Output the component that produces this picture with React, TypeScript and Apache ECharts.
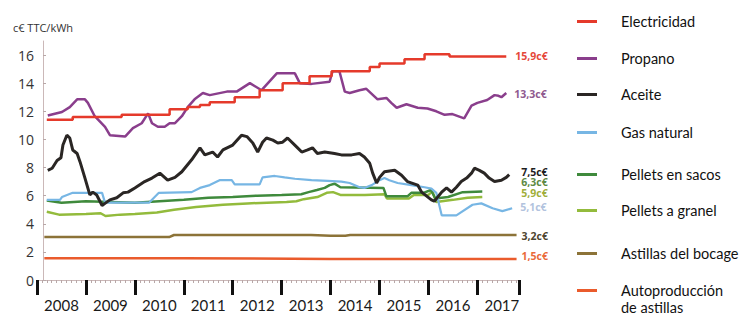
import React, { useEffect, useRef } from "react";
import * as echarts from "echarts";

// ---- Data (year as decimal, value in c€ TTC/kWh) ----
const seriesNames = [
  "Electricidad",
  "Propano",
  "Aceite",
  "Gas natural",
  "Pellets en sacos",
  "Pellets a granel",
  "Astillas del bocage",
  "Autoproducción de astillas",
];

const electricidad: [number, number][] = [
  [2008.2, 11.4], [2008.73, 11.6], [2009.73, 11.75], [2010.71, 12.15], [2011.08, 12.3],
  [2011.33, 12.45], [2011.53, 12.65], [2012.04, 13.0], [2012.55, 13.5], [2013.02, 14.0],
  [2013.57, 14.5], [2014.02, 14.85], [2014.8, 15.15], [2015.0, 15.4], [2015.51, 15.7],
  [2015.92, 16.05], [2016.43, 15.9], [2017.59, 15.9],
];

const propano: [number, number][] = [
  [2008.22, 11.7], [2008.51, 11.95], [2008.67, 12.3], [2008.82, 12.85], [2008.98, 12.85],
  [2009.04, 12.6], [2009.18, 11.65], [2009.39, 10.9], [2009.49, 10.3], [2009.8, 10.2],
  [2009.96, 10.8], [2010.14, 11.15], [2010.27, 11.85], [2010.35, 11.15], [2010.47, 10.9],
  [2010.61, 10.9], [2010.71, 11.15], [2010.82, 11.15], [2010.96, 11.65], [2011.08, 12.3],
  [2011.22, 12.85], [2011.39, 13.3], [2011.53, 13.15], [2011.88, 13.4], [2012.08, 13.4],
  [2012.35, 14.0], [2012.59, 13.5], [2012.9, 14.7], [2013.27, 14.7], [2013.37, 14.0],
  [2013.61, 13.95], [2013.98, 14.1], [2014.04, 14.85], [2014.18, 14.85], [2014.29, 13.4],
  [2014.39, 13.3], [2014.59, 13.5], [2014.73, 13.6], [2014.96, 12.85], [2015.14, 12.95],
  [2015.24, 12.6], [2015.35, 12.25], [2015.55, 12.5], [2015.78, 12.25], [2015.98, 12.2],
  [2016.16, 12.0], [2016.33, 11.75], [2016.49, 11.8], [2016.73, 11.5], [2016.88, 12.4],
  [2017.0, 12.6], [2017.2, 12.8], [2017.35, 13.15], [2017.43, 13.1], [2017.49, 13.0],
  [2017.59, 13.3],
];

const aceite: [number, number][] = [
  [2008.22, 7.8], [2008.31, 7.95], [2008.41, 8.5], [2008.49, 8.7], [2008.53, 9.6],
  [2008.61, 10.3], [2008.67, 10.1], [2008.73, 9.25], [2008.82, 9.0], [2008.88, 8.4],
  [2008.98, 7.25], [2009.08, 6.05], [2009.14, 6.25], [2009.22, 6.05], [2009.33, 5.3],
  [2009.39, 5.45], [2009.49, 5.7], [2009.63, 5.85], [2009.76, 6.2], [2009.86, 6.25],
  [2010.0, 6.55], [2010.2, 7.0], [2010.35, 7.25], [2010.51, 7.6], [2010.67, 7.1],
  [2010.82, 7.3], [2010.96, 7.7], [2011.16, 8.55], [2011.33, 9.4], [2011.43, 8.9],
  [2011.59, 9.1], [2011.69, 8.75], [2011.8, 9.25], [2012.0, 9.6], [2012.18, 10.3],
  [2012.29, 10.2], [2012.41, 9.75], [2012.51, 9.1], [2012.61, 9.8], [2012.69, 10.1],
  [2012.82, 9.95], [2012.92, 9.75], [2013.02, 9.8], [2013.12, 10.1], [2013.31, 9.45],
  [2013.41, 9.1], [2013.53, 9.25], [2013.63, 9.4], [2013.73, 9.0], [2013.88, 9.1],
  [2014.08, 9.0], [2014.22, 8.9], [2014.43, 8.9], [2014.59, 9.0], [2014.69, 8.75],
  [2014.8, 8.3], [2014.86, 7.6], [2014.94, 6.9], [2015.0, 7.3], [2015.1, 7.7],
  [2015.31, 7.8], [2015.45, 7.45], [2015.57, 7.0], [2015.78, 6.75], [2015.86, 6.25],
  [2016.06, 5.7], [2016.12, 5.6], [2016.27, 6.25], [2016.37, 6.55], [2016.47, 6.25],
  [2016.57, 6.6], [2016.67, 7.0], [2016.78, 7.25], [2016.88, 7.6], [2016.94, 7.95],
  [2017.04, 7.8], [2017.14, 7.6], [2017.24, 7.25], [2017.35, 7.0], [2017.49, 7.1],
  [2017.59, 7.3], [2017.65, 7.5],
];

const gasNatural: [number, number][] = [
  [2008.2, 5.7], [2008.47, 5.7], [2008.51, 5.9], [2008.73, 6.2], [2009.33, 6.2],
  [2009.39, 5.5], [2010.29, 5.5], [2010.39, 5.85], [2010.49, 6.2], [2011.16, 6.25],
  [2011.33, 6.55], [2011.53, 6.75], [2011.73, 7.1], [2011.98, 7.1], [2012.04, 6.8],
  [2012.55, 6.8], [2012.61, 7.3], [2012.86, 7.4], [2013.06, 7.3], [2013.27, 7.2],
  [2013.61, 7.1], [2013.94, 7.05], [2014.22, 7.0], [2014.39, 6.9], [2014.59, 6.6],
  [2014.69, 6.55], [2014.84, 6.75], [2015.0, 7.1], [2015.1, 7.25], [2015.2, 7.1],
  [2015.37, 6.9], [2015.65, 6.75], [2015.92, 6.6], [2016.06, 6.5], [2016.16, 6.2],
  [2016.27, 4.6], [2016.57, 4.6], [2016.9, 5.35], [2017.08, 5.45], [2017.31, 5.1],
  [2017.51, 4.9], [2017.71, 5.1],
];

const pelletsSacos: [number, number][] = [
  [2008.2, 5.65], [2008.5, 5.5], [2009.0, 5.6], [2009.5, 5.55], [2010.0, 5.5],
  [2010.5, 5.6], [2011.0, 5.7], [2011.5, 5.85], [2012.0, 5.9], [2012.5, 6.0],
  [2013.0, 6.05], [2013.4, 6.1], [2013.55, 6.25], [2013.72, 6.4], [2013.88, 6.55],
  [2013.98, 6.75], [2014.08, 6.85], [2014.2, 6.6], [2015.08, 6.55], [2015.14, 5.95],
  [2015.57, 5.95], [2015.65, 6.2], [2015.9, 6.2], [2016.05, 6.4], [2016.14, 5.8],
  [2016.4, 5.9], [2016.7, 6.25], [2017.1, 6.3],
];

const pelletsGranel: [number, number][] = [
  [2008.2, 4.85], [2008.45, 4.65], [2009.0, 4.7], [2009.3, 4.75], [2009.4, 4.55],
  [2009.7, 4.65], [2010.0, 4.7], [2010.45, 4.8], [2010.8, 5.0], [2011.25, 5.2],
  [2011.8, 5.35], [2012.3, 5.45], [2012.7, 5.5], [2013.1, 5.55], [2013.3, 5.6],
  [2013.45, 5.75], [2013.73, 5.9], [2013.92, 6.2], [2014.05, 6.25], [2014.2, 6.05],
  [2014.7, 6.05], [2015.1, 6.1], [2015.15, 5.8], [2015.6, 5.8], [2015.7, 6.05],
  [2016.0, 6.05], [2016.08, 6.3], [2016.16, 5.55], [2016.5, 5.7], [2016.8, 5.85],
  [2017.1, 5.9],
];

const astillasBocage: [number, number][] = [
  [2008.15, 3.05], [2010.7, 3.05], [2010.8, 3.2], [2013.6, 3.2], [2014.0, 3.15],
  [2014.3, 3.15], [2014.4, 3.2], [2017.8, 3.2],
];

const autoproduccion: [number, number][] = [
  [2008.15, 1.55], [2011.0, 1.55], [2014.0, 1.5], [2017.8, 1.5],
];

const yearLabels = ["2008", "2009", "2010", "2011", "2012", "2013", "2014", "2015", "2016", "2017"];
const yTicks = [0, 2, 4, 6, 8, 10, 12, 14, 16];

const seriesData = [
  electricidad, propano, aceite, gasNatural, pelletsSacos, pelletsGranel, astillasBocage, autoproduccion,
];

// styles, in series order: red, purple, black, blue, green, lime, brown, orange
const colors = ["#e53a2b", "#8a3e8c", "#2a2624", "#77b6e4", "#3f8a3c", "#93bb3c", "#8c7338", "#ea5b2c"];
const labelColors = ["#e5483a", "#8f5a8f", "#1e1e1e", "#b2c3de", "#5e8a44", "#9fae3a", "#4e4530", "#ea6a3a"];
const widths = [2.5, 2.5, 3, 2.2, 2.5, 2.5, 2.5, 2.5];
const labelOffsets: [number, number][] = [
  [1, 0], [0, 1], [4, -3], [0, -1], [31, -9], [31, -4], [-3, 1], [-3, -3],
];
const steps: (false | "end")[] = ["end", false, false, false, false, false, false, false];
const legendCenters = [22, 59, 95, 133, 175, 211, 254, 292];

export default function App() {
  const ref = useRef<HTMLDivElement>(null);

  useEffect(() => {
    if (!ref.current) return;
    const chart = echarts.init(ref.current, undefined, { renderer: "svg" });

    const series = seriesNames.map((name, i) => ({
      name,
      type: "line",
      xAxisIndex: 0,
      data: seriesData[i],
      step: steps[i],
      showSymbol: false,
      symbol: "none",
      lineStyle: { color: colors[i], width: widths[i] },
      itemStyle: { color: colors[i] },
      z: 10 - i,
      endLabel: {
        show: true,
        formatter: (p: any) => p.value[1].toFixed(1).replace(".", ",") + "c€",
        color: labelColors[i],
        fontSize: 10.5,
        lineHeight: 10,
        fontWeight: "bold",
        fontFamily: "Open Sans",
        offset: labelOffsets[i],
      },
    }));

    const legends = seriesNames.map((name, i) => {
      const last = i === seriesNames.length - 1;
      return {
        orient: "vertical",
        left: 577,
        top: legendCenters[i] - (last ? 27 : 9),
        padding: 0,
        itemWidth: 20,
        itemHeight: 3,
        icon: "rect",
        data: [name],
        formatter: (n: string) => (last ? "\nAutoproducción\nde astillas" : n),
        textStyle: {
          fontFamily: "Lato",
          fontSize: 14.5,
          color: "#111111",
          lineHeight: 17,
          padding: [0, 0, 0, 19],
        },
      };
    });

    chart.setOption({
      animation: false,
      backgroundColor: "#ffffff",
      grid: { left: 37, right: 222, top: 41, bottom: 34, containLabel: false },
      legend: legends,
      xAxis: [
        {
          type: "value",
          position: "bottom",
          min: 2008,
          max: 2017.85,
          interval: 1,
          axisLine: { show: true, lineStyle: { color: "#cbb8b8", width: 1 } },
          axisTick: { show: true, length: 15, lineStyle: { color: "#111111", width: 3 } },
          minorTick: { show: true, splitNumber: 10, length: 3, lineStyle: { color: "#b8a8a8", width: 1 } },
          axisLabel: { show: false },
          splitLine: { show: false },
        },
        {
          type: "value",
          position: "bottom",
          offset: 0,
          min: 2008,
          max: 2017.85,
          interval: 0.5,
          axisLine: { show: false },
          axisTick: { show: false },
          splitLine: { show: false },
          axisLabel: {
            show: true,
            margin: 17,
            fontFamily: "Lato",
            fontSize: 15,
            color: "#1a1a1a",
            formatter: (v: number) => {
              const idx = Math.floor(v) - 2008;
              return Math.abs(v - Math.floor(v) - 0.5) < 1e-6 && idx >= 0 && idx < yearLabels.length
                ? yearLabels[idx]
                : "";
            },
          },
        },
      ],
      yAxis: {
        type: "value",
        min: yTicks[0],
        max: 17,
        interval: 2,
        offset: -6,
        name: "c€ TTC/kWh",
        nameLocation: "end",
        nameGap: 8,
        nameTextStyle: { fontFamily: "Open Sans", fontSize: 11, color: "#333333", align: "center" },
        axisLine: { show: true, lineStyle: { color: "#cbb8b8", width: 1 } },
        axisTick: { show: true, inside: true, length: 3, lineStyle: { color: "#b8a8a8" } },
        axisLabel: {
          showMaxLabel: false,
          margin: 9,
          fontFamily: "Open Sans",
          fontSize: 14,
          color: "#333333",
          formatter: (v: number) => (yTicks.includes(v) ? String(v) : ""),
        },
        splitLine: { show: false },
      },
      series,
    });

    return () => chart.dispose();
  }, []);

  return (
    <div
      ref={ref}
      style={{ position: "fixed", left: 0, top: 0, width: 741, height: 314, background: "#fff" }}
    />
  );
}
